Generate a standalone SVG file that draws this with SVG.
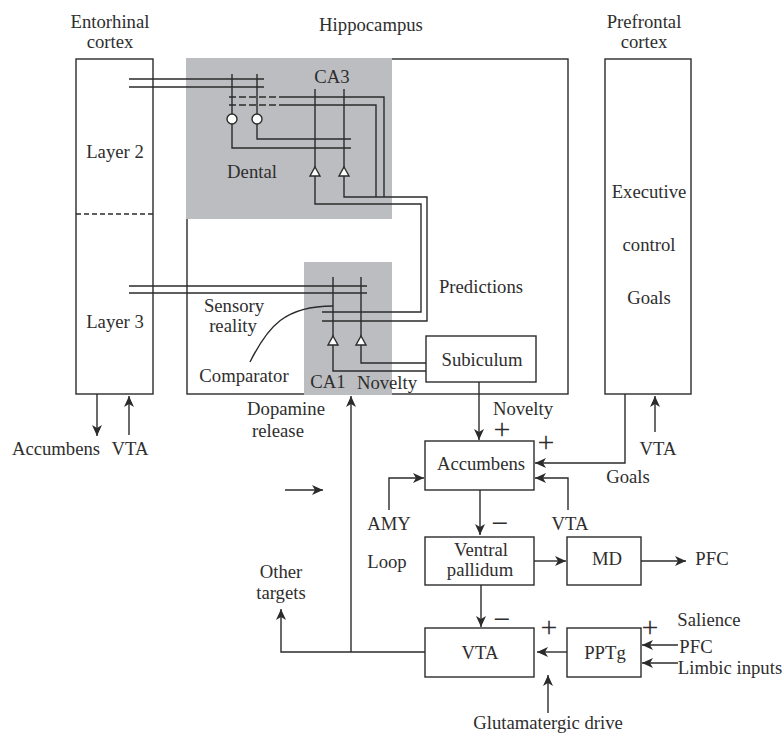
<svg xmlns="http://www.w3.org/2000/svg" width="784" height="734" viewBox="0 0 784 734">
<style>
text{font-family:"Liberation Serif","Times New Roman",serif;font-size:18.7px;fill:#2e2e2e;text-anchor:middle}
.b{fill:#fff;stroke:#2b2b2b;stroke-width:1.4}
.f{fill:none;stroke:#2b2b2b;stroke-width:1.4}
.g{fill:#bcbdc0}
.l{fill:none;stroke:#2b2b2b;stroke-width:1.4}
.a{fill:none;stroke:#2b2b2b;stroke-width:1.4;marker-end:url(#ah)}
.d{stroke-dasharray:7 3}
.c{fill:#fff;stroke:#2b2b2b;stroke-width:1.4}
.s{font-size:30px}
</style>
<defs>
<marker id="ah" markerUnits="userSpaceOnUse" markerWidth="14" markerHeight="12" refX="11" refY="5" orient="auto"><path d="M0 0L11 5L0 10L3 5Z" fill="#2b2b2b"/></marker>
</defs>
<rect width="784" height="734" fill="#fff"/>
<g id="entorhinal">
<rect class="f" x="76" y="59" width="77" height="335"/>
<path class="l" d="M76 214H153" stroke-dasharray="5 3"/>
<text x="110" y="28">Entorhinal</text><text x="110" y="48">cortex</text>
<text x="115" y="158">Layer 2</text><text x="115" y="328">Layer 3</text>
</g>
<g id="hippocampus">
<rect class="f" x="187" y="59" width="381" height="335"/>
<rect class="g" x="186" y="58" width="206" height="161"/>
<rect class="g" x="304" y="262" width="88" height="133"/>
<text x="371" y="31">Hippocampus</text>
<text x="332" y="83">CA3</text><text x="252" y="178">Dental</text>
<text x="234" y="312">Sensory</text><text x="233" y="332">reality</text>
<text x="244" y="382">Comparator</text>
<text x="328" y="388">CA1</text><text x="387" y="389">Novelty</text>
<text x="481" y="293">Predictions</text>
<text x="286" y="415">Dopamine</text><text x="278" y="437">release</text>
</g>
<g id="prefrontal">
<rect class="f" x="605" y="59" width="86" height="335"/>
<text x="644" y="28">Prefrontal</text><text x="644" y="48">cortex</text>
<text x="649" y="198">Executive</text><text x="649" y="251">control</text><text x="649" y="304">Goals</text>
</g>
<g id="connectors">
<path class="l" d="M129 79H264M129 87H264M232 74V114M257 74V114"/>
<path class="l d" d="M229 97H283M229 105H283"/>
<path class="l" d="M283 97H384V197M283 105H376V197"/>
<path class="l" d="M257 124V139H351M232 124V148H351"/>
<path class="l" d="M315 89V168M344 89V168"/>
<path class="l" d="M315 176V204H421V312H322M344 176V197H427V321H322"/>
<path class="l" d="M129 286H367M129 293H367M333 277V336M361 277V336"/>
<path class="l" d="M333 345V371H426M361 345V363H426"/>
<path class="l" d="M250 362C268 326 285 306 333 306"/>
<path class="a" d="M97 394V436"/>
<path class="a" d="M129 435V396"/>
<path class="a" d="M351 652V396"/>
<path class="a" d="M425 652H281V609"/>
<path class="a" d="M479 382V440"/>
<path class="a" d="M625 394V463H535"/>
<path class="a" d="M655 432V396"/>
<path class="a" d="M568 510V478H535"/>
<path class="a" d="M389 510V478H424"/>
<path class="a" d="M480 490V535"/>
<path class="a" d="M285 490H323"/>
<path class="a" d="M534 561H566"/>
<path class="a" d="M641 561H686"/>
<path class="a" d="M481 585V627"/>
<path class="a" d="M567 652H537"/>
<path class="a" d="M548 713V675"/>
<path class="a" d="M678 645H642"/>
<path class="a" d="M678 663H642"/>
<circle class="c" cx="232" cy="119" r="5"/><circle class="c" cx="257" cy="119" r="5"/>
<path class="c" d="M315 167L320 176H310ZM344 167L349 176H339ZM333 336L338 345H328ZM361 336L366 345H356Z"/>
</g>
<g id="subiculum"><rect class="b" x="426" y="336" width="110" height="46"/><text x="482" y="366">Subiculum</text></g>
<g id="accumbens"><rect class="b" x="425" y="441" width="109" height="49"/><text x="481" y="470">Accumbens</text></g>
<g id="ventral-pallidum"><rect class="b" x="425" y="537" width="109" height="48"/><text x="481" y="556">Ventral</text><text x="480" y="576">pallidum</text></g>
<g id="md"><rect class="b" x="567" y="537" width="74" height="48"/><text x="607" y="565">MD</text></g>
<g id="vta"><rect class="b" x="425" y="628" width="109" height="49"/><text x="480" y="659">VTA</text></g>
<g id="pptg"><rect class="b" x="567" y="628" width="74" height="49"/><text x="605" y="659">PPTg</text></g>
<g id="labels">
<text x="56" y="455">Accumbens</text><text x="130" y="455">VTA</text>
<text x="523" y="415">Novelty</text><text x="658" y="455">VTA</text><text x="628" y="483">Goals</text>
<text x="389" y="530">AMY</text><text x="570" y="530">VTA</text>
<text x="387" y="568">Loop</text><text x="281" y="578">Other</text><text x="281" y="599">targets</text>
<text x="712" y="565">PFC</text><text x="709" y="626">Salience</text><text x="696" y="653">PFC</text><text x="730" y="674">Limbic inputs</text>
<text x="548" y="729">Glutamatergic drive</text>
<text class="s" x="502" y="439">+</text><text class="s" x="546" y="452">+</text><text class="s" x="500" y="533">−</text><text class="s" x="502" y="629">−</text><text class="s" x="549" y="637">+</text><text class="s" x="650" y="637">+</text>
</g>
</svg>
